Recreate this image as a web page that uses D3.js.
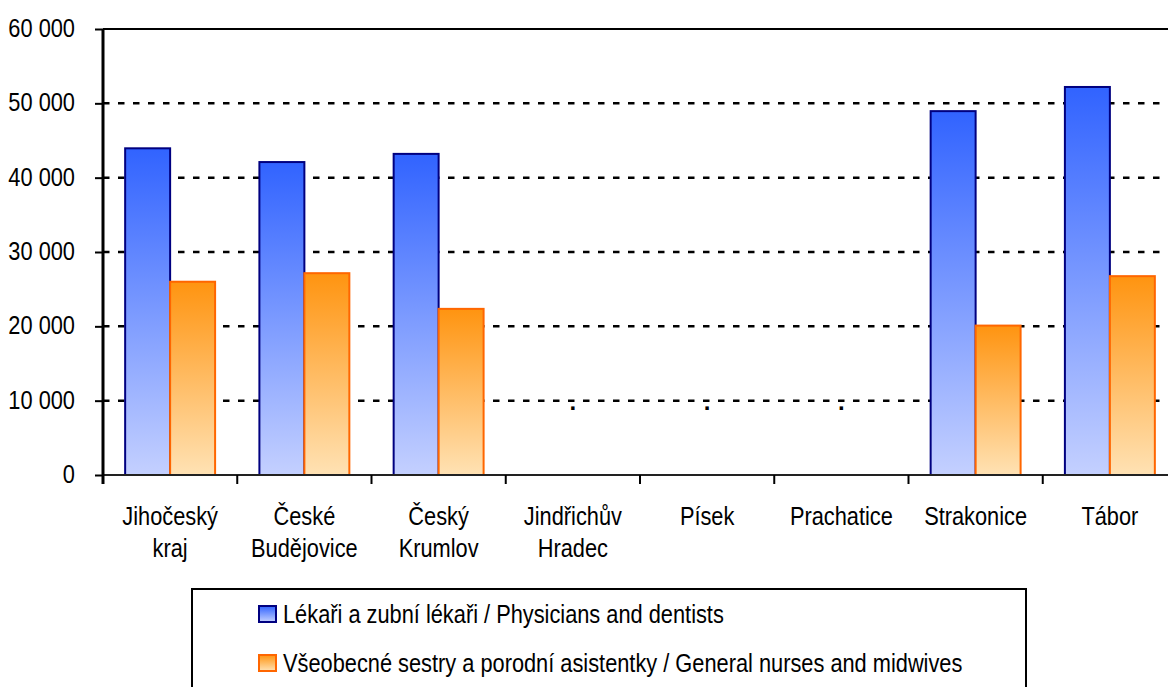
<!DOCTYPE html>
<html>
<head>
<meta charset="utf-8">
<script src="https://cdn.jsdelivr.net/npm/d3@7"></script>
<style>
  body { margin: 0; background: #fff; }
  svg { display: block; font-family: "Liberation Sans", Arial, sans-serif; }
</style>
</head>
<body>
<svg id="chart" width="1168" height="687"></svg>
<script>
// categories (each entry is the label split into lines)
const categories = [
  ['Jihočeský', 'kraj'],
  ['České', 'Budějovice'],
  ['Český', 'Krumlov'],
  ['Jindřichův', 'Hradec'],
  ['Písek'],
  ['Prachatice'],
  ['Strakonice'],
  ['Tábor']
];
const seriesNames = [
  'Lékaři a zubní lékaři / Physicians and dentists',
  'Všeobecné sestry a porodní asistentky / General nurses and midwives'
];
// null = value not shown (".")
const physicians = [43950, 42100, 43200, null, null, null, 48950, 52200];
const nurses = [26000, 27150, 22350, null, null, null, 20100, 26750];
const yTicks = [0, 10000, 20000, 30000, 40000, 50000, 60000];

const margin = {top: 29, left: 103, bottom: 212};
const plotRight = 1177;
const fontSize = 21.8;
const stretch = 'scale(1,1.18)'; // reference text is tall and narrow
const svg = d3.select('#chart');
const height = 687 - margin.bottom;

const keys = categories.map(c => c.join(' '));
const x0 = d3.scaleBand().domain(keys).range([margin.left, plotRight]).padding(0);
const bw = x0.bandwidth();
const x1 = d3.scaleBand().domain([0, 1]).range([bw * 0.165, bw * 0.835]).padding(0);
const y = d3.scaleLinear().domain([0, 60000]).range([height, margin.top]);

// gradients
const defs = svg.append('defs');
const grads = [
  {id: 'gBlue', top: '#3163ff', bottom: '#c4d0ff', stroke: '#000080'},
  {id: 'gOrange', top: '#ff9410', bottom: '#ffe2b4', stroke: '#ff6600'}
];
grads.forEach(g => {
  const lg = defs.append('linearGradient').attr('id', g.id)
      .attr('x1', 0).attr('y1', 0).attr('x2', 0).attr('y2', 1);
  lg.append('stop').attr('offset', '0%').attr('stop-color', g.top);
  lg.append('stop').attr('offset', '100%').attr('stop-color', g.bottom);
});

// grid lines
svg.append('g').selectAll('line')
  .data(yTicks.filter(d => d > 0 && d < 60000))
  .join('line')
    .attr('x1', margin.left).attr('x2', plotRight)
    .attr('y1', d => y(d)).attr('y2', d => y(d))
    .attr('stroke', '#000').attr('stroke-width', 2.5)
    .attr('stroke-dasharray', '6.5,8.5');

// top border
svg.append('line')
  .attr('x1', margin.left).attr('x2', plotRight)
  .attr('y1', y(60000)).attr('y2', y(60000))
  .attr('stroke', '#000').attr('stroke-width', 2);

// bars
const rows = categories.map((c, i) => ({key: keys[i], vals: [physicians[i], nurses[i]]}));
const groups = svg.append('g').selectAll('g')
  .data(rows)
  .join('g')
    .attr('transform', d => `translate(${x0(d.key)},0)`);

groups.selectAll('rect')
  .data(d => d.vals.map((v, j) => ({v, j})).filter(d => d.v != null))
  .join('rect')
    .attr('x', d => x1(d.j))
    .attr('width', x1.bandwidth())
    .attr('y', d => y(d.v))
    .attr('height', d => y(0) - y(d.v))
    .attr('fill', d => `url(#${grads[d.j].id})`)
    .attr('stroke', d => grads[d.j].stroke)
    .attr('stroke-width', 2);

// missing-value markers
groups.filter(d => d.vals.every(v => v == null))
  .append('text')
    .attr('x', bw / 2)
    .attr('y', y(10000) + 9)
    .attr('text-anchor', 'middle')
    .attr('font-size', 24)
    .attr('font-weight', 'bold')
    .text('.');

// x axis
const xAxisG = svg.append('g')
  .attr('transform', `translate(0,${height})`);
xAxisG.append('line')
  .attr('x1', margin.left).attr('x2', 1168)
  .attr('stroke', '#222').attr('stroke-width', 2);
xAxisG.selectAll('.tick')
  .data(keys)
  .join('line')
    .attr('class', 'tick')
    .attr('x1', d => x0(d)).attr('x2', d => x0(d))
    .attr('y1', 0).attr('y2', 9)
    .attr('stroke', '#000').attr('stroke-width', 2);
const labels = xAxisG.selectAll('text')
  .data(categories)
  .join('text')
    .attr('transform', (d, i) => `translate(${x0(keys[i]) + bw / 2},50) ${stretch}`)
    .attr('font-size', fontSize)
    .attr('text-anchor', 'middle');
labels.selectAll('tspan')
  .data(d => d)
  .join('tspan')
    .attr('x', 0)
    .attr('dy', (d, i) => i === 0 ? 0 : 32 / 1.18)
    .text(d => d);

// y axis
const fmt = d => d3.format(',')(d).replace(/,/g, ' ');
const yAxis = d3.axisLeft(y).tickValues(yTicks).tickSize(8).tickPadding(20).tickFormat(fmt);
const yAxisG = svg.append('g')
  .attr('transform', `translate(${margin.left},0)`)
  .call(yAxis);
yAxisG.select('.domain').remove();
yAxisG.selectAll('.tick line').attr('stroke', '#000').attr('stroke-width', 2);
yAxisG.selectAll('.tick text')
  .attr('font-size', fontSize)
  .attr('font-family', '"Liberation Sans", Arial, sans-serif')
  .attr('fill', '#000')
  .attr('dy', null)
  .attr('y', 0)
  .attr('x', null)
  .attr('transform', `translate(-28,7.5) ${stretch}`);
yAxisG.append('line')
  .attr('x1', 0).attr('x2', 0)
  .attr('y1', margin.top).attr('y2', height + 9)
  .attr('stroke', '#000').attr('stroke-width', 3);

// legend
const legend = svg.append('g');
legend.append('rect')
  .attr('x', 192).attr('y', 589)
  .attr('width', 834).attr('height', 120)
  .attr('fill', '#fff').attr('stroke', '#000').attr('stroke-width', 2);
const items = legend.selectAll('g.item')
  .data(seriesNames)
  .join('g')
    .attr('class', 'item')
    .attr('transform', (d, i) => `translate(259,${606 + i * 49})`);
items.append('rect')
  .attr('width', 17).attr('height', 16)
  .attr('fill', (d, i) => `url(#${grads[i].id})`)
  .attr('stroke', (d, i) => grads[i].stroke)
  .attr('stroke-width', 2);
items.append('text')
  .attr('transform', `translate(24,17) ${stretch}`)
  .attr('font-size', fontSize)
  .text(d => d);
</script>
</body>
</html>
